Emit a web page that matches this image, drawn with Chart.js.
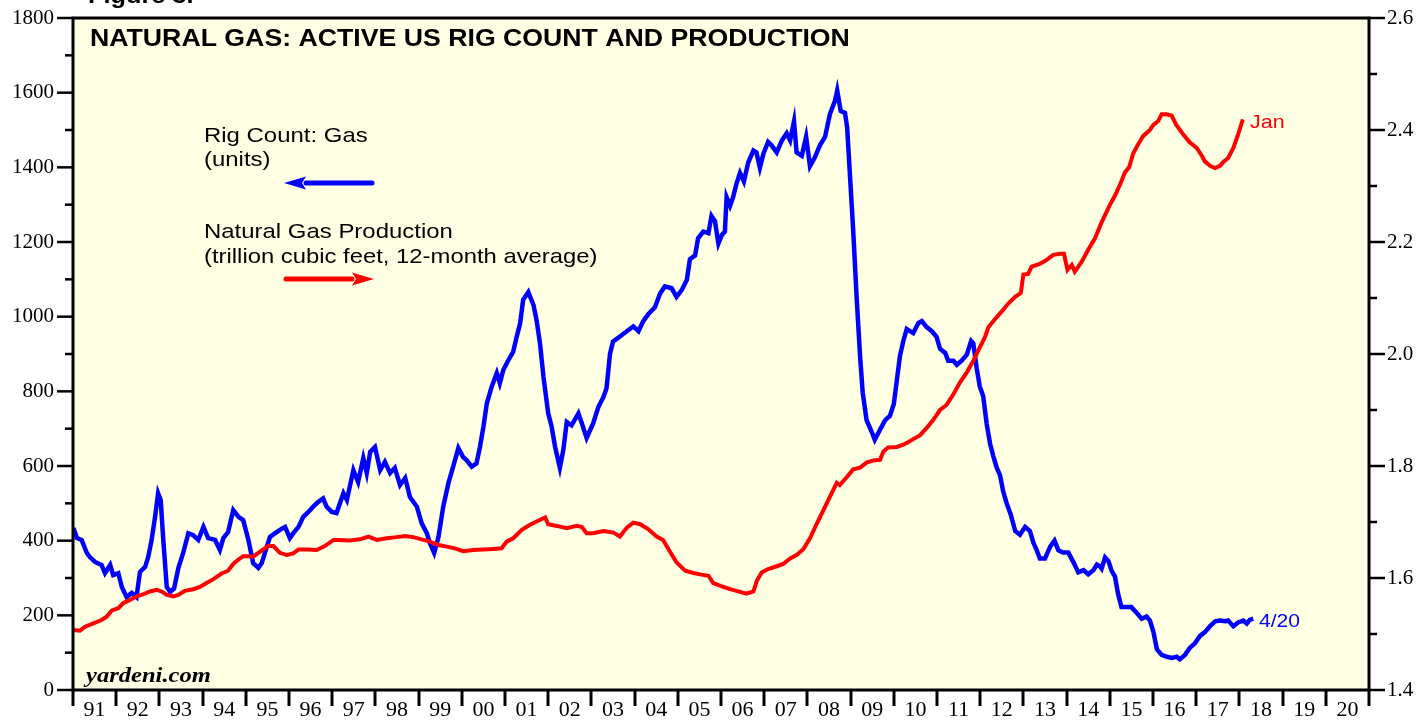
<!DOCTYPE html>
<html>
<head>
<meta charset="utf-8">
<title>Natural Gas: Active US Rig Count and Production</title>
<script src="https://cdn.jsdelivr.net/npm/chart.js@4.4.0/dist/chart.umd.min.js"></script>
<style>
    html, body { margin: 0; padding: 0; background: #fff; }
    #chart { display: block; }
</style>
</head>
<body>
<canvas id="chart" width="1424" height="721"></canvas>
<script>
const yearLabels = ['91', '92', '93', '94', '95', '96', '97', '98', '99', '00', '01', '02', '03', '04', '05',
    '06', '07', '08', '09', '10', '11', '12', '13', '14', '15', '16', '17', '18', '19', '20'];

const rigYears = [
    1991.01, 1991.09, 1991.20, 1991.32, 1991.39, 1991.51, 1991.66, 1991.74, 1991.86, 1991.93,
    1992.05, 1992.13, 1992.24, 1992.36, 1992.47, 1992.55, 1992.67, 1992.74, 1992.82, 1992.90,
    1992.97, 1993.03, 1993.09, 1993.17, 1993.25, 1993.34, 1993.44, 1993.55, 1993.67, 1993.78,
    1993.90, 1994.02, 1994.13, 1994.29, 1994.40, 1994.48, 1994.59, 1994.71, 1994.83, 1994.94,
    1995.06, 1995.17, 1995.29, 1995.37, 1995.44, 1995.56, 1995.68, 1995.79, 1995.91, 1996.02,
    1996.10, 1996.22, 1996.33, 1996.45, 1996.56, 1996.68, 1996.79, 1996.87, 1996.99, 1997.10,
    1997.26, 1997.34, 1997.49, 1997.60, 1997.72, 1997.80, 1997.88, 1997.99, 1998.11, 1998.22,
    1998.34, 1998.45, 1998.57, 1998.69, 1998.80, 1998.96, 1999.07, 1999.19, 1999.26, 1999.36,
    1999.46, 1999.57, 1999.69, 1999.80, 1999.92, 2000.03, 2000.11, 2000.23, 2000.34, 2000.42,
    2000.50, 2000.58, 2000.69, 2000.81, 2000.88, 2000.96, 2001.08, 2001.19, 2001.27, 2001.35,
    2001.42, 2001.54, 2001.66, 2001.73, 2001.81, 2001.89, 2002.00, 2002.08, 2002.16, 2002.27,
    2002.35, 2002.43, 2002.54, 2002.70, 2002.78, 2002.89, 2003.04, 2003.16, 2003.28, 2003.35,
    2003.43, 2003.50, 2003.66, 2003.82, 2003.97, 2004.09, 2004.20, 2004.32, 2004.47, 2004.59,
    2004.70, 2004.86, 2004.97, 2005.09, 2005.21, 2005.28, 2005.40, 2005.47, 2005.59, 2005.71,
    2005.78, 2005.86, 2005.94, 2006.02, 2006.09, 2006.13, 2006.21, 2006.28, 2006.36, 2006.44,
    2006.53, 2006.63, 2006.75, 2006.82, 2006.90, 2006.98, 2007.09, 2007.17, 2007.29, 2007.41,
    2007.52, 2007.60, 2007.69, 2007.75, 2007.87, 2007.97, 2008.06, 2008.17, 2008.29, 2008.41,
    2008.52, 2008.64, 2008.69, 2008.77, 2008.87, 2008.92, 2008.99, 2009.06, 2009.14, 2009.22,
    2009.28, 2009.37, 2009.49, 2009.56, 2009.68, 2009.80, 2009.91, 2010.00, 2010.07, 2010.14,
    2010.22, 2010.30, 2010.45, 2010.57, 2010.65, 2010.76, 2010.88, 2010.99, 2011.07, 2011.19,
    2011.26, 2011.38, 2011.46, 2011.57, 2011.69, 2011.79, 2011.84, 2011.92, 2011.99, 2012.07,
    2012.15, 2012.23, 2012.30, 2012.38, 2012.46, 2012.53, 2012.61, 2012.71, 2012.81, 2012.92,
    2013.04, 2013.15, 2013.23, 2013.31, 2013.38, 2013.50, 2013.62, 2013.72, 2013.81, 2013.92,
    2014.04, 2014.16, 2014.27, 2014.39, 2014.50, 2014.62, 2014.70, 2014.77, 2014.81, 2014.89,
    2014.97, 2015.04, 2015.12, 2015.19, 2015.27, 2015.39, 2015.50, 2015.62, 2015.74, 2015.85,
    2015.93, 2016.01, 2016.09, 2016.20, 2016.32, 2016.43, 2016.55, 2016.62, 2016.74, 2016.86,
    2016.97, 2017.09, 2017.20, 2017.32, 2017.44, 2017.55, 2017.67, 2017.74, 2017.86, 2017.97,
    2018.09, 2018.17, 2018.24, 2018.32
];
const rigCount = [
    434, 407, 402, 367, 356, 343, 335, 313, 335, 308,
    313, 276, 249, 260, 249, 316, 330, 356, 402, 464,
    527, 509, 402, 276, 263, 272, 327, 367, 420, 415,
    402, 437, 407, 402, 375, 407, 423, 482, 464, 455,
    402, 340, 327, 340, 367, 410, 420, 429, 437, 407,
    420, 437, 464, 477, 491, 504, 513, 491, 477, 474,
    527, 509, 589, 557, 621, 581, 638, 651, 589, 611,
    581, 595, 549, 568, 517, 491, 447, 420, 394, 367,
    410, 491, 554, 598, 648, 624, 616, 598, 607, 651,
    705, 768, 812, 849, 822, 857, 884, 906, 946, 982,
    1045, 1066, 1031, 991, 929, 839, 741, 705, 651, 595,
    643, 718, 709, 741, 714, 675, 714, 758, 785, 808,
    900, 933, 947, 961, 974, 961, 988, 1007, 1025, 1062,
    1081, 1076, 1053, 1071, 1099, 1154, 1164, 1210, 1228, 1224,
    1270, 1256, 1196, 1219, 1228, 1320, 1297, 1320, 1357, 1385,
    1362, 1413, 1445, 1440, 1399, 1436, 1468, 1459, 1440, 1472,
    1491, 1472, 1523, 1440, 1431, 1482, 1403, 1426, 1459, 1482,
    1542, 1579, 1606, 1551, 1546, 1507, 1369, 1231, 1051, 893,
    797, 723, 691, 670, 697, 723, 734, 766, 829, 893,
    935, 967, 956, 983, 988, 972, 961, 946, 914, 903,
    882, 882, 871, 882, 898, 935, 929, 861, 813, 787,
    713, 659, 628, 596, 575, 533, 501, 469, 426, 416,
    437, 426, 395, 374, 352, 352, 384, 400, 374, 368,
    368, 342, 315, 321, 310, 321, 336, 331, 325, 355,
    345, 320, 304, 258, 222, 222, 222, 207, 191, 197,
    186, 155, 109, 94, 89, 86, 89, 82, 94, 114,
    125, 145, 155, 171, 184, 186, 184, 186, 171, 181,
    186, 178, 188, 191
];

const prodYears = [
    1991.01, 1991.16, 1991.28, 1991.47, 1991.66, 1991.78, 1991.90, 1992.05, 1992.16, 1992.32,
    1992.47, 1992.63, 1992.78, 1992.94, 1993.05, 1993.17, 1993.32, 1993.44, 1993.59, 1993.78,
    1993.94, 1994.09, 1994.25, 1994.44, 1994.59, 1994.71, 1994.83, 1994.94, 1995.06, 1995.17,
    1995.33, 1995.52, 1995.64, 1995.79, 1995.95, 1996.10, 1996.22, 1996.41, 1996.64, 1996.83,
    1997.03, 1997.14, 1997.41, 1997.64, 1997.84, 1998.03, 1998.26, 1998.49, 1998.69, 1998.88,
    1999.07, 1999.26, 1999.46, 1999.65, 1999.84, 2000.03, 2000.27, 2000.50, 2000.73, 2000.92,
    2001.04, 2001.19, 2001.39, 2001.58, 2001.73, 2001.93, 2002.00, 2002.20, 2002.43, 2002.66,
    2002.78, 2002.89, 2003.04, 2003.28, 2003.51, 2003.66, 2003.82, 2003.97, 2004.13, 2004.32,
    2004.51, 2004.66, 2004.82, 2004.97, 2005.17, 2005.36, 2005.55, 2005.71, 2005.82, 2006.02,
    2006.21, 2006.40, 2006.59, 2006.75, 2006.83, 2006.94, 2007.09, 2007.29, 2007.44, 2007.60,
    2007.75, 2007.91, 2008.06, 2008.21, 2008.37, 2008.52, 2008.68, 2008.75, 2008.91, 2009.06,
    2009.22, 2009.37, 2009.53, 2009.68, 2009.76, 2009.87, 2010.07, 2010.22, 2010.34, 2010.45,
    2010.61, 2010.76, 2010.91, 2011.07, 2011.22, 2011.38, 2011.53, 2011.69, 2011.84, 2012.00,
    2012.11, 2012.19, 2012.34, 2012.50, 2012.65, 2012.81, 2012.94, 2013.00, 2013.11, 2013.19,
    2013.38, 2013.54, 2013.69, 2013.85, 2013.94, 2014.02, 2014.12, 2014.19, 2014.35, 2014.50,
    2014.66, 2014.81, 2015.00, 2015.12, 2015.24, 2015.35, 2015.45, 2015.54, 2015.66, 2015.77,
    2015.93, 2016.01, 2016.12, 2016.20, 2016.31, 2016.43, 2016.54, 2016.70, 2016.85, 2017.01,
    2017.13, 2017.20, 2017.32, 2017.44, 2017.55, 2017.63, 2017.74, 2017.86, 2017.97, 2018.08
];
const prodTcf = [
    1.507, 1.506, 1.513, 1.519, 1.525, 1.531, 1.542, 1.546, 1.555, 1.561,
    1.567, 1.571, 1.576, 1.579, 1.576, 1.570, 1.567, 1.570, 1.577, 1.580,
    1.584, 1.591, 1.598, 1.608, 1.613, 1.625, 1.633, 1.639, 1.639, 1.638,
    1.647, 1.657, 1.657, 1.645, 1.641, 1.644, 1.651, 1.651, 1.650, 1.657,
    1.668, 1.668, 1.667, 1.669, 1.674, 1.668, 1.671, 1.673, 1.675, 1.673,
    1.669, 1.665, 1.659, 1.656, 1.653, 1.648, 1.650, 1.651, 1.652, 1.653,
    1.665, 1.671, 1.686, 1.695, 1.701, 1.708, 1.696, 1.693, 1.689, 1.693,
    1.691, 1.680, 1.680, 1.684, 1.681, 1.674, 1.690, 1.699, 1.696, 1.687,
    1.674, 1.668, 1.647, 1.628, 1.613, 1.609, 1.606, 1.604, 1.591, 1.585,
    1.580, 1.576, 1.572, 1.576, 1.595, 1.610, 1.616, 1.621, 1.625, 1.635,
    1.641, 1.652, 1.671, 1.696, 1.721, 1.745, 1.770, 1.766, 1.780, 1.794,
    1.797, 1.806, 1.810, 1.811, 1.826, 1.833, 1.834, 1.838, 1.843, 1.848,
    1.855, 1.868, 1.882, 1.900, 1.909, 1.928, 1.949, 1.967, 1.988, 2.013,
    2.030, 2.048, 2.062, 2.076, 2.090, 2.102, 2.109, 2.142, 2.143, 2.156,
    2.161, 2.168, 2.177, 2.179, 2.179, 2.150, 2.159, 2.147, 2.165, 2.186,
    2.207, 2.235, 2.266, 2.283, 2.303, 2.324, 2.334, 2.358, 2.375, 2.389,
    2.400, 2.409, 2.416, 2.428, 2.428, 2.426, 2.409, 2.392, 2.378, 2.368,
    2.354, 2.344, 2.336, 2.332, 2.336, 2.343, 2.350, 2.368, 2.392, 2.419
];

const BLUE = '#0000ff';
const RED = '#ff0000';
const PLOT_BG = '#ffffe4';
const SERIF = '"Liberation Serif", "Times New Roman", serif';
const SANS = '"Liberation Sans", Arial, sans-serif';

// the original lettering is a little wider than Arial, so stretch it sideways
function wideText(ctx, text, x, y, stretch) {
    ctx.save();
    ctx.translate(x, y);
    ctx.scale(stretch, 1);
    ctx.fillText(text, 0, 0);
    ctx.restore();
}

function drawArrow(ctx, x1, x2, y, color) {
    const dir = x2 > x1 ? 1 : -1;
    const headLen = 22;
    ctx.save();
    ctx.strokeStyle = color;
    ctx.fillStyle = color;
    ctx.lineWidth = 5;
    ctx.lineCap = 'round';
    ctx.beginPath();
    ctx.moveTo(x1, y);
    ctx.lineTo(x2 - dir * headLen, y);
    ctx.stroke();
    ctx.beginPath();
    ctx.moveTo(x2, y);
    ctx.lineTo(x2 - dir * headLen, y - 6.5);
    ctx.lineTo(x2 - dir * (headLen - 4), y);
    ctx.lineTo(x2 - dir * headLen, y + 6.5);
    ctx.closePath();
    ctx.fill();
    ctx.restore();
}

const framePlugin = {
    id: 'frame',
    beforeDraw(chart) {
        const { ctx, chartArea: a } = chart;
        ctx.save();
        ctx.fillStyle = '#fff';
        ctx.fillRect(0, 0, chart.width, chart.height);
        ctx.fillStyle = PLOT_BG;
        ctx.fillRect(a.left, a.top, a.right - a.left, a.bottom - a.top);
        ctx.restore();
    },
    afterDraw(chart) {
        const { ctx, chartArea: a } = chart;
        const x = chart.scales.x;
        const yL = chart.scales.yL;
        const yR = chart.scales.yR;
        ctx.save();
        ctx.strokeStyle = '#000';

        // ticks on the x axis sit on year boundaries, labels sit between them
        ctx.lineWidth = 3;
        for (let yr = x.min; yr <= x.max; yr++) {
            const px = Math.round(x.getPixelForValue(yr));
            ctx.beginPath();
            ctx.moveTo(px, a.bottom);
            ctx.lineTo(px, a.bottom + 16);
            ctx.stroke();
        }

        ctx.lineWidth = 2.5;
        [[yL, -1], [yR, 1]].forEach(([scale, side]) => {
            const edge = side < 0 ? a.left : a.right;
            const vals = scale.ticks.map(t => t.value);
            vals.forEach((v, i) => {
                const py = scale.getPixelForValue(v);
                ctx.beginPath();
                ctx.moveTo(edge, py);
                ctx.lineTo(edge + side * 16, py);
                ctx.stroke();
                if (i < vals.length - 1) {
                    const pm = scale.getPixelForValue((v + vals[i + 1]) / 2);
                    ctx.beginPath();
                    ctx.moveTo(edge, pm);
                    ctx.lineTo(edge + side * 8, pm);
                    ctx.stroke();
                }
            });
        });

        ctx.lineWidth = 3;
        ctx.strokeRect(a.left, a.top, a.right - a.left, a.bottom - a.top);

        ctx.fillStyle = '#000';
        ctx.font = 'bold 22px ' + SANS;
        wideText(ctx, 'Figure 3.', 88, 3, 1.15);
        ctx.font = 'bold 23px ' + SANS;
        wideText(ctx, 'NATURAL GAS: ACTIVE US RIG COUNT AND PRODUCTION', 90, 46, 1.16);

        ctx.font = '21px ' + SANS;
        wideText(ctx, 'Rig Count: Gas', 204, 142, 1.14);
        wideText(ctx, '(units)', 204, 166, 1.14);
        wideText(ctx, 'Natural Gas Production', 204, 238, 1.14);
        wideText(ctx, '(trillion cubic feet, 12-month average)', 204, 263, 1.135);
        drawArrow(ctx, 372, 284, 183, BLUE);
        drawArrow(ctx, 286, 374, 279, RED);

        ctx.font = 'italic bold 21px ' + SERIF;
        wideText(ctx, 'yardeni.com', 86, 682, 1.17);

        ctx.font = '19px ' + SANS;
        ctx.fillStyle = RED;
        wideText(ctx, 'Jan', 1250, 128, 1.13);
        ctx.fillStyle = BLUE;
        wideText(ctx, '4/20', 1259, 627, 1.11);
        ctx.restore();
    }
};

const chart = new Chart(document.getElementById('chart'), {
    type: 'line',
    data: {
        datasets: [
            {
                label: 'Natural Gas Production',
                data: prodYears.map((yr, i) => ({ x: yr, y: prodTcf[i] })),
                yAxisID: 'yR',
                borderColor: RED,
                borderWidth: 4,
                pointRadius: 0,
                tension: 0,
                order: 0
            },
            {
                label: 'Rig Count: Gas',
                data: rigYears.map((yr, i) => ({ x: yr, y: rigCount[i] })),
                yAxisID: 'yL',
                borderColor: BLUE,
                borderWidth: 4.5,
                pointRadius: 0,
                tension: 0,
                order: 1
            }
        ]
    },
    options: {
        responsive: false,
        animation: false,
        layout: { padding: { top: 18, left: 0, right: 0, bottom: 0 } },
        plugins: {
            legend: { display: false },
            tooltip: { enabled: false }
        },
        scales: {
            x: {
                type: 'linear',
                min: 1991,
                max: 2021,
                afterBuildTicks: scale => {
                    scale.ticks = yearLabels.map((l, i) => ({ value: 1991.5 + i }));
                },
                afterFit: scale => {
                    scale.height = 31;
                    scale.paddingLeft = 0;
                    scale.paddingRight = 0;
                },
                grid: { display: false, drawTicks: false },
                border: { display: false },
                ticks: {
                    autoSkip: false,
                    maxRotation: 0,
                    padding: 7,
                    color: '#000',
                    font: { family: SERIF, size: 22 },
                    callback: (v, i) => yearLabels[i]
                }
            },
            yL: {
                position: 'left',
                min: 0,
                max: 1800,
                afterFit: scale => {
                    scale.width = 73;
                    scale.paddingTop = 0;
                    scale.paddingBottom = 0;
                },
                grid: { display: false, drawTicks: false },
                border: { display: false },
                ticks: {
                    stepSize: 200,
                    padding: 19,
                    color: '#000',
                    font: { family: SERIF, size: 21 },
                    callback: v => String(v)
                }
            },
            yR: {
                position: 'right',
                min: 1.4,
                max: 2.6,
                afterFit: scale => {
                    scale.width = 55;
                    scale.paddingTop = 0;
                    scale.paddingBottom = 0;
                },
                grid: { display: false, drawTicks: false },
                border: { display: false },
                ticks: {
                    stepSize: 0.2,
                    padding: 18,
                    color: '#000',
                    font: { family: SERIF, size: 21 },
                    callback: v => v.toFixed(1)
                }
            }
        }
    },
    plugins: [framePlugin]
});
</script>
</body>
</html>
